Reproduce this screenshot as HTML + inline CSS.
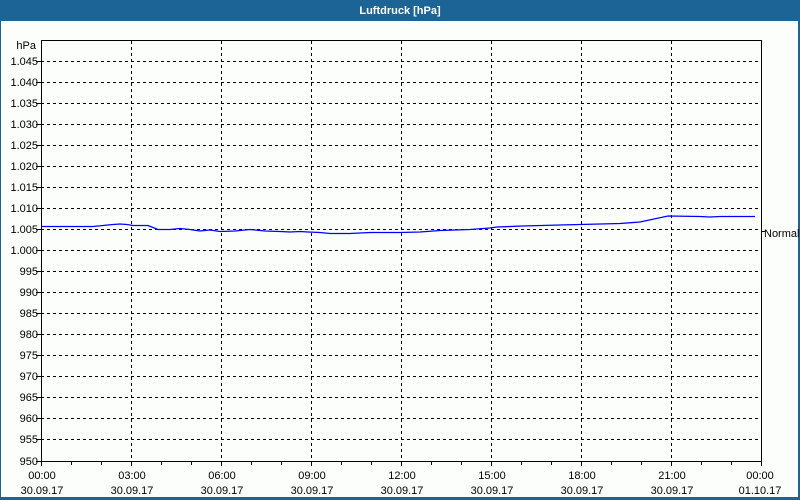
<!DOCTYPE html>
<html><head><meta charset="utf-8"><style>
body{margin:0;width:800px;height:500px;overflow:hidden;background:#fcfefc;}
svg{display:block}
text{font-family:"Liberation Sans",sans-serif;font-size:11px;fill:#000}
</style></head><body>
<svg width="800" height="500" xmlns="http://www.w3.org/2000/svg">
<rect x="0" y="0" width="800" height="500" fill="#1c6496"/>
<rect x="1" y="21" width="797" height="476" fill="#fcfefc"/>
<text x="400" y="14" text-anchor="middle" style="font-weight:bold;fill:#fff">Luftdruck [hPa]</text>
<g stroke="#000" stroke-dasharray="3,3" stroke-width="1">
<path d="M131.5 41V461M221.5 41V461M311.5 41V461M401.5 41V461M491.5 41V461M581.5 41V461M671.5 41V461"/>
<path d="M41 61.5H761M41 82.5H761M41 103.5H761M41 124.5H761M41 145.5H761M41 166.5H761M41 187.5H761M41 208.5H761M41 229.5H761M41 250.5H761M41 271.5H761M41 292.5H761M41 313.5H761M41 334.5H761M41 355.5H761M41 376.5H761M41 397.5H761M41 418.5H761M41 439.5H761"/>
</g>
<g stroke="#000" fill="none">
<path d="M41.5 40.5H761.5V461.5H41.5Z"/>
<path d="M41.5 461V466M71.5 461V465M101.5 461V465M131.5 461V466M161.5 461V465M191.5 461V465M221.5 461V466M251.5 461V465M281.5 461V465M311.5 461V466M341.5 461V465M371.5 461V465M401.5 461V466M431.5 461V465M461.5 461V465M491.5 461V466M521.5 461V465M551.5 461V465M581.5 461V466M611.5 461V465M641.5 461V465M671.5 461V466M701.5 461V465M731.5 461V465M761.5 461V466"/>
<path d="M36 61.5H41M36 82.5H41M36 103.5H41M36 124.5H41M36 145.5H41M36 166.5H41M36 187.5H41M36 208.5H41M36 229.5H41M36 250.5H41M36 271.5H41M36 292.5H41M36 313.5H41M36 334.5H41M36 355.5H41M36 376.5H41M36 397.5H41M36 418.5H41M36 439.5H41M36 461.5H41"/>
<path d="M761 231.5H765"/>
</g>
<polyline fill="none" stroke="#0000ff" stroke-width="1.3" points="41,226.5 93,226.5 103,225.5 113,224.5 120,224 127,224.5 133,225.5 148,225.5 158,229.5 170,229.5 180,228.5 190,229.5 200,231 210,230 220,231.5 235,231 250,229.5 265,231 280,231.5 290,232 300,231.5 308,232 320,232.5 330,233.5 350,233.5 370,232.5 400,232.5 420,232 440,230.5 470,229.5 490,228 497,227 523,226 560,225 580,224.5 620,223.5 640,222 668,216 700,216.5 710,217 720,216.5 755,216.5"/>
<text x="36" y="49" text-anchor="end">hPa</text>
<g text-anchor="end">
<text x="38" y="65">1.045</text><text x="38" y="86">1.040</text><text x="38" y="107">1.035</text><text x="38" y="128">1.030</text><text x="38" y="149">1.025</text><text x="38" y="170">1.020</text><text x="38" y="191">1.015</text><text x="38" y="212">1.010</text><text x="38" y="233">1.005</text><text x="38" y="254">1.000</text><text x="38" y="275">995</text><text x="38" y="296">990</text><text x="38" y="317">985</text><text x="38" y="338">980</text><text x="38" y="359">975</text><text x="38" y="380">970</text><text x="38" y="401">965</text><text x="38" y="422">960</text><text x="38" y="443">955</text><text x="38" y="465">950</text>
</g>
<text x="764" y="237">Normal</text>
<g text-anchor="middle">
<text x="42" y="479">00:00</text><text x="42" y="494">30.09.17</text>
<text x="132" y="479">03:00</text><text x="132" y="494">30.09.17</text>
<text x="222" y="479">06:00</text><text x="222" y="494">30.09.17</text>
<text x="312" y="479">09:00</text><text x="312" y="494">30.09.17</text>
<text x="402" y="479">12:00</text><text x="402" y="494">30.09.17</text>
<text x="492" y="479">15:00</text><text x="492" y="494">30.09.17</text>
<text x="582" y="479">18:00</text><text x="582" y="494">30.09.17</text>
<text x="672" y="479">21:00</text><text x="672" y="494">30.09.17</text>
<text x="760" y="479">00:00</text><text x="760" y="494">01.10.17</text>
</g>
</svg>
</body></html>
